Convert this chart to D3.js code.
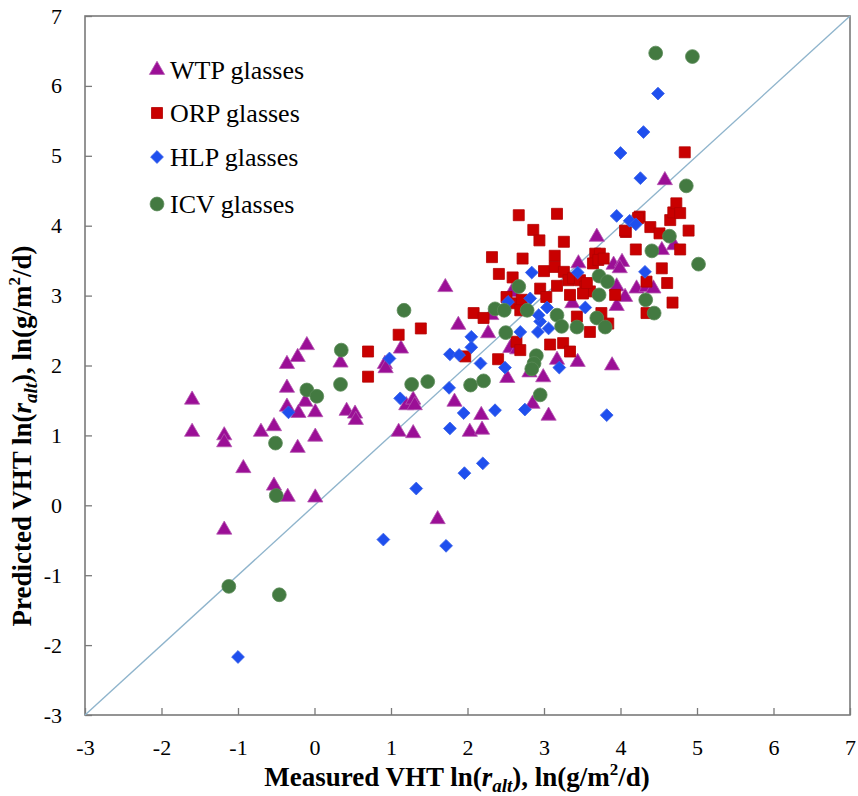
<!DOCTYPE html>
<html>
<head>
<meta charset="utf-8">
<script src="https://cdn.jsdelivr.net/npm/d3@7"></script>
<style>
  html, body { margin: 0; padding: 0; background: #fff; }
  svg { display: block; }
  text { font-family: "Liberation Serif", "Times New Roman", serif; fill: #000; }
</style>
</head>
<body>
<svg id="chart" width="858" height="796"></svg>
<script>
// ---------------- DATA ----------------
const seriesNames = ["WTP glasses", "ORP glasses", "HLP glasses", "ICV glasses"];
const xTicks = [-3, -2, -1, 0, 1, 2, 3, 4, 5, 6, 7];
const yTicks = [-3, -2, -1, 0, 1, 2, 3, 4, 5, 6, 7];
const diagonal = [-3, 7];

// WTP glasses (triangles): [measured, predicted]
const wtp = [
  [-1.60,1.51],[-1.60,1.05],[-1.18,1.00],[-1.18,0.90],[-0.70,1.05],[-0.53,1.13],[-0.93,0.53],[-1.18,-0.35],
  [-0.10,2.29],[-0.22,2.12],[-0.36,2.02],[-0.36,1.68],[-0.12,1.48],[-0.36,1.41],[-0.21,1.32],[0.01,1.33],
  [-0.22,0.82],[0.01,0.98],[-0.53,0.28],[-0.35,0.12],[0.01,0.11],
  [0.34,2.04],[0.42,1.35],[0.53,1.31],[0.54,1.22],
  [0.92,2.02],[0.93,1.96],[1.13,2.24],[1.71,3.12],[1.88,2.58],
  [1.20,1.43],[1.29,1.51],[1.31,1.43],[1.10,1.05],[1.29,1.03],[1.83,1.48],[2.18,1.29],[2.03,1.05],[2.19,1.08],[1.61,-0.20],
  [2.27,2.46],[2.56,2.25],[2.65,2.23],[2.52,1.82],[2.81,1.90],[2.99,1.83],[2.85,1.45],[3.06,1.28],[3.17,2.08],[3.44,2.05],
  [2.31,2.72],[2.58,3.05],[3.37,2.89],[3.45,3.46],[3.69,3.84],[3.91,3.44],[4.02,3.48],[3.99,3.39],[3.95,3.13],[4.06,2.98],
  [3.95,2.85],[4.21,3.10],[4.34,3.12],[4.43,3.10],[4.54,3.65],[4.70,3.72],[4.58,4.65],[3.89,2.00]
];

// ORP glasses (squares)
const orp = [
  [0.70,2.20],[0.70,1.84],[1.10,2.44],[1.39,2.53],[1.97,2.13],
  [2.08,2.75],[2.21,2.68],[2.32,3.55],[2.41,3.31],[2.59,3.26],[2.67,4.15],[3.17,4.17],[2.86,3.94],[2.94,3.79],
  [3.26,3.77],[2.72,3.53],[3.14,3.57],[3.00,3.35],[3.14,3.41],[3.26,3.34],[3.32,3.22],[3.17,3.14],[3.34,3.01],
  [2.95,3.10],[3.03,2.98],[2.51,2.98],[2.62,2.89],[2.71,2.94],[2.69,2.79],[2.40,2.09],[2.64,2.34],[2.69,2.22],
  [3.08,2.30],[3.25,2.32],[3.34,2.20],[3.43,2.70],[3.38,3.25],[3.47,3.22],[3.54,3.13],[3.60,3.06],[3.51,3.03],
  [3.67,3.60],[3.64,3.46],[3.56,3.18],[3.73,3.60],[3.71,3.51],[3.78,3.53],[3.93,3.01],[3.75,2.75],[3.84,2.60],
  [3.60,2.48],[4.07,3.91],[4.25,4.13],[4.39,3.98],[4.51,3.89],[4.65,4.08],[4.69,4.19],[4.73,4.32],[4.78,4.18],
  [4.89,3.93],[4.78,3.66],[4.20,3.66],[4.54,3.39],[4.34,3.20],[4.61,3.18],[4.68,2.90],[4.34,2.75],[4.84,5.05],
  [4.23,4.11],[4.06,3.93]
];

// HLP glasses (diamonds)
const hlp = [
  [-1.00,-2.17],[-0.34,1.33],[0.98,2.10],[1.12,1.53],[0.90,-0.49],[1.33,0.24],[1.72,-0.58],[1.96,0.46],[2.20,0.60],
  [1.77,1.10],[1.76,1.68],[1.95,1.32],[2.36,1.36],[2.75,1.37],[3.82,1.29],[1.77,2.16],[1.89,2.15],[2.05,2.41],
  [2.05,2.26],[2.17,2.03],[2.49,1.97],[3.20,1.97],[2.69,2.48],[2.92,2.48],[3.06,2.53],[2.95,2.63],[2.93,2.72],
  [3.04,2.83],[2.53,2.91],[2.82,2.96],[2.84,3.33],[3.44,3.33],[3.54,2.83],[4.32,3.34],[3.95,4.14],[4.12,4.07],
  [4.20,4.02],[4.26,4.68],[4.00,5.04],[4.30,5.34],[4.49,5.89]
];

// ICV glasses (circles)
const icv = [
  [-1.12,-1.16],[-0.46,-1.28],[-0.50,0.14],[-0.51,0.89],[-0.10,1.65],[0.03,1.56],[0.35,2.22],[0.34,1.73],
  [1.17,2.79],[1.27,1.73],[1.48,1.77],[2.04,1.72],[2.21,1.78],[2.95,1.58],[2.90,2.14],[2.87,2.03],[2.84,1.95],
  [2.36,2.81],[2.48,2.79],[2.67,3.13],[2.78,2.79],[2.50,2.47],[3.17,2.72],[3.23,2.56],[3.43,2.55],[3.72,3.28],
  [3.83,3.20],[3.72,3.01],[3.69,2.68],[3.80,2.55],[4.33,2.94],[4.44,2.75],[4.41,3.64],[4.64,3.85],[5.02,3.45],
  [4.86,4.57],[4.46,6.47],[4.94,6.42]
];

// ---------------- CHART ----------------
const svg = d3.select("#chart");
const plot = { left: 85, right: 850, top: 16, bottom: 715 };

const x = d3.scaleLinear().domain([-3, 7]).range([plot.left, plot.right]);
const y = d3.scaleLinear().domain([-3, 7]).range([plot.bottom, plot.top]);

const axisColor = "#7a7a7a";

// frame
svg.append("rect")
  .attr("x", plot.left).attr("y", plot.top)
  .attr("width", plot.right - plot.left).attr("height", plot.bottom - plot.top)
  .attr("fill", "none").attr("stroke", axisColor).attr("stroke-width", 1.6);

// axes
const xAxis = svg.append("g")
  .attr("transform", `translate(0,${plot.bottom})`)
  .call(d3.axisBottom(x).tickValues(xTicks).tickFormat(d3.format("d"))
        .tickSizeInner(-7).tickSizeOuter(0).tickPadding(24));
const yAxis = svg.append("g")
  .attr("transform", `translate(${plot.left},0)`)
  .call(d3.axisLeft(y).tickValues(yTicks).tickFormat(d3.format("d"))
        .tickSizeInner(-7).tickSizeOuter(0).tickPadding(23));
[xAxis, yAxis].forEach(g => {
  g.select(".domain").remove();
  g.selectAll(".tick line").attr("stroke", axisColor).attr("stroke-width", 1.3);
  g.selectAll(".tick text").attr("font-size", 22).attr("fill", "#000")
    .style("font-family", '"Liberation Serif", "Times New Roman", serif');
});
xAxis.selectAll(".tick text").text(d => d < 0 ? "-" + Math.abs(d) : d);
yAxis.selectAll(".tick text").text(d => d < 0 ? "-" + Math.abs(d) : d);

// diagonal 1:1 line
svg.append("line")
  .attr("x1", x(diagonal[0])).attr("y1", y(diagonal[0]))
  .attr("x2", x(diagonal[1])).attr("y2", y(diagonal[1]))
  .attr("stroke", "#8fb4cc").attr("stroke-width", 1.4);

// markers
const styles = [
  { data: wtp, sym: d3.symbolTriangle, size: 100, rot: 0, fill: "#9b0f96", stroke: "#b456b0" },
  { data: orp, sym: d3.symbolSquare, size: 121, rot: 0, fill: "#c90000", stroke: "#b30000" },
  { data: hlp, sym: d3.symbolSquare, size: 82, rot: 45, fill: "#1f4fee", stroke: "#3b63e8" },
  { data: icv, sym: d3.symbolCircle, size: 150, rot: 0, fill: "#437a41", stroke: "#5a8a58" }
];

styles.forEach((s, i) => {
  const path = d3.symbol().type(s.sym).size(s.size)();
  svg.append("g").attr("class", "series-" + i)
    .selectAll("path").data(s.data).join("path")
    .attr("d", path)
    .attr("transform", d => `translate(${x(d[0])},${y(d[1])}) rotate(${s.rot})`)
    .attr("fill", s.fill).attr("stroke", s.stroke).attr("stroke-width", 0.8);
});

// legend
const legendY = [70, 113, 157, 204];
const legend = svg.append("g");
styles.forEach((s, i) => {
  const path = d3.symbol().type(s.sym).size(s.size)();
  legend.append("path").attr("d", path)
    .attr("transform", `translate(157,${legendY[i]}) rotate(${s.rot})`)
    .attr("fill", s.fill).attr("stroke", s.stroke).attr("stroke-width", 0.8);
  legend.append("text").attr("x", 170).attr("y", legendY[i])
    .attr("dy", "0.35em").attr("font-size", 26).text(seriesNames[i]);
});

// axis titles
function title(sel) {
  sel.attr("text-anchor", "middle").attr("font-size", 27).attr("font-weight", "bold");
  sel.append("tspan").text("Measured VHT ln(".replace("Measured", sel.attr("data-w")));
  sel.append("tspan").attr("font-style", "italic").text("r");
  sel.append("tspan").attr("font-style", "italic").attr("font-size", 19).attr("dy", 6).text("alt");
  sel.append("tspan").attr("dy", -6).text("), ln(g/m");
  sel.append("tspan").attr("font-size", 17).attr("dy", -11).text("2");
  sel.append("tspan").attr("dy", 11).text("/d)");
}
svg.append("text").attr("data-w", "Measured")
  .attr("x", 457).attr("y", 786).call(title);
svg.append("text").attr("data-w", "Predicted")
  .attr("transform", "translate(31,436) rotate(-90)").call(title);
</script>
</body>
</html>
